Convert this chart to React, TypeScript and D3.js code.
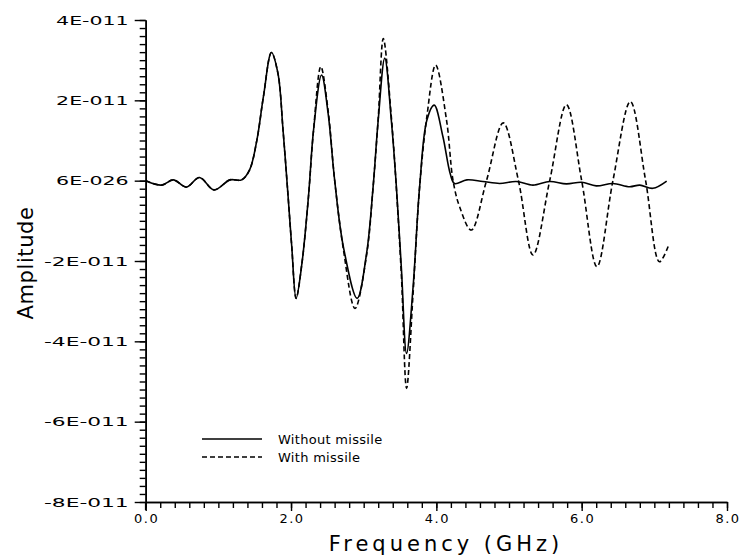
import React, { useEffect, useRef } from 'react';
import * as d3 from 'd3';

// amplitude values are in units of 1E-11
const freqWithout = [0, 0.22, 0.38, 0.56, 0.74, 0.94, 1.16, 1.32, 1.43, 1.53, 1.62, 1.73, 1.82, 1.89, 1.96, 2.01, 2.07, 2.15, 2.24, 2.31, 2.42, 2.51, 2.6, 2.72, 2.91, 3.04, 3.13, 3.2, 3.29, 3.38, 3.45, 3.52, 3.59, 3.68, 3.77, 3.87, 3.97, 4.09, 4.19, 4.25, 4.42, 4.64, 4.87, 5.1, 5.33, 5.56, 5.79, 6.0, 6.2, 6.43, 6.66, 6.8, 6.98, 7.17];
const ampWithout = [0, -0.11, 0.02, -0.16, 0.08, -0.23, 0.02, 0.02, 0.27, 1.01, 2.09, 3.19, 2.67, 1.26, -0.4, -1.64, -2.93, -2.06, -0.4, 1.26, 2.63, 1.68, 0.02, -1.64, -2.93, -1.81, -0.15, 1.51, 3.05, 1.51, -0.15, -2.22, -4.3, -2.64, -0.15, 1.51, 1.88, 1.1, 0.18, -0.07, 0.02, -0.02, -0.07, -0.02, -0.11, -0.02, -0.08, -0.04, -0.13, -0.07, -0.15, -0.11, -0.19, -0.01];

const freqWith = [0, 0.22, 0.38, 0.56, 0.74, 0.94, 1.16, 1.32, 1.43, 1.53, 1.62, 1.73, 1.82, 1.89, 1.96, 2.01, 2.07, 2.15, 2.24, 2.31, 2.41, 2.51, 2.6, 2.72, 2.88, 3.04, 3.13, 3.2, 3.27, 3.38, 3.45, 3.52, 3.59, 3.68, 3.77, 3.87, 3.99, 4.14, 4.23, 4.32, 4.48, 4.69, 4.92, 5.13, 5.33, 5.56, 5.79, 6.0, 6.21, 6.43, 6.67, 6.88, 7.07, 7.19];
const ampWith = [0, -0.11, 0.02, -0.16, 0.08, -0.23, 0.02, 0.02, 0.27, 1.01, 2.09, 3.19, 2.67, 1.26, -0.4, -1.64, -2.93, -2.06, -0.4, 1.26, 2.84, 1.75, 0.02, -1.7, -3.18, -1.85, -0.15, 1.55, 3.54, 1.6, -0.2, -2.4, -5.17, -2.8, -0.15, 1.6, 2.88, 1.51, 0, -0.65, -1.23, 0, 1.44, 0, -1.85, 0, 1.89, 0, -2.14, 0, 1.97, 0, -2.02, -1.64];

const yTickValues = [-8, -6, -4, -2, 0, 2, 4];
const yTickLabels = ['-8E-011', '-6E-011', '-4E-011', '-2E-011', '6E-026', '2E-011', '4E-011'];
const xTickValues = [0, 2, 4, 6, 8];
const xTickLabels = ['0.0', '2.0', '4.0', '6.0', '8.0'];
const seriesNames = ['Without missile', 'With missile'];

const FONT = '"DejaVu Sans", sans-serif';

export default function App() {
  const svgRef = useRef<SVGSVGElement>(null);

  useEffect(() => {
    const svg = d3.select(svgRef.current);
    svg.selectAll('*').remove();

    const x = d3.scaleLinear().domain([0, 8]).range([145.7, 727]);
    const y = d3.scaleLinear().domain([-8, 4]).range([502, 20]);

    const g = svg.append('g');

    const yMinor = d3.range(0, 61).map(i => -8 + i * 0.2);
    const xMinor = d3.range(0, 41).map(i => i * 0.2);

    // minor ticks
    const yMinorAxis = g.append('g')
      .attr('transform', `translate(${x(0)},0)`)
      .call(d3.axisLeft(y).tickValues(yMinor).tickSize(6).tickSizeOuter(0).tickFormat(() => ''));
    const xMinorAxis = g.append('g')
      .attr('transform', `translate(0,${y(-8)})`)
      .call(d3.axisBottom(x).tickValues(xMinor).tickSize(6).tickSizeOuter(0).tickFormat(() => ''));

    // major ticks
    g.append('g')
      .attr('transform', `translate(${x(0)},0)`)
      .call(d3.axisLeft(y).tickValues(yTickValues).tickSize(11).tickSizeOuter(0).tickFormat(() => ''));
    g.append('g')
      .attr('transform', `translate(0,${y(-8)})`)
      .call(d3.axisBottom(x).tickValues(xTickValues).tickSize(9).tickSizeOuter(0).tickFormat(() => ''));

    g.selectAll('.domain').attr('stroke', '#000').attr('stroke-width', 1.6);
    g.selectAll('.tick line').attr('stroke', '#000').attr('stroke-width', 1.4);
    [yMinorAxis, xMinorAxis].forEach(a => a.select('.domain').attr('stroke-width', 1.6));

    // y axis runs a little past the x axis
    g.append('line')
      .attr('x1', x(0)).attr('x2', x(0))
      .attr('y1', y(-8)).attr('y2', y(-8) + 8)
      .attr('stroke', '#000').attr('stroke-width', 1.6);

    g.selectAll('text.ylabel')
      .data(yTickValues)
      .join('text')
      .attr('class', 'ylabel')
      .attr('x', x(0) - 17)
      .attr('y', d => y(d) + 4.6)
      .attr('text-anchor', 'end')
      .attr('textLength', (d, i) => yTickLabels[i].length * 12.1)
      .attr('lengthAdjust', 'spacingAndGlyphs')
      .style('font-family', FONT)
      .style('font-size', '13px')
      .text((d, i) => yTickLabels[i]);

    g.selectAll('text.xlabel')
      .data(xTickValues)
      .join('text')
      .attr('class', 'xlabel')
      .attr('x', d => x(d) + 1)
      .attr('y', y(-8) + 21)
      .attr('text-anchor', 'middle')
      .style('font-family', FONT)
      .style('font-size', '13px')
      .style('letter-spacing', '1.5px')
      .text((d, i) => xTickLabels[i]);

    // axis titles
    g.append('text')
      .attr('x', 446)
      .attr('y', 551)
      .attr('text-anchor', 'middle')
      .style('font-family', FONT)
      .style('font-size', '21px')
      .style('letter-spacing', '4px')
      .text('Frequency (GHz)');

    g.append('text')
      .attr('transform', 'translate(33,263) rotate(-90)')
      .attr('text-anchor', 'middle')
      .style('font-family', FONT)
      .style('font-size', '21px')
      .style('letter-spacing', '0.6px')
      .text('Amplitude');

    const line = d3.line<[number, number]>()
      .x(d => x(d[0]))
      .y(d => y(d[1]))
      .curve(d3.curveCatmullRom.alpha(0.5));

    const withoutData = freqWithout.map((f, i) => [f, ampWithout[i]] as [number, number]);
    const withData = freqWith.map((f, i) => [f, ampWith[i]] as [number, number]);

    g.append('path')
      .datum(withData)
      .attr('d', line)
      .attr('fill', 'none')
      .attr('stroke', '#000')
      .attr('stroke-width', 1.6)
      .attr('stroke-dasharray', '5,3');

    g.append('path')
      .datum(withoutData)
      .attr('d', line)
      .attr('fill', 'none')
      .attr('stroke', '#000')
      .attr('stroke-width', 1.6);

    // legend
    const legend = g.append('g');
    seriesNames.forEach((name, i) => {
      const ly = 439 + i * 18;
      legend.append('line')
        .attr('x1', 202).attr('x2', 262)
        .attr('y1', ly).attr('y2', ly)
        .attr('stroke', '#000')
        .attr('stroke-width', 1.6)
        .attr('stroke-dasharray', i === 1 ? '5,3' : null);
      legend.append('text')
        .attr('x', 278)
        .attr('y', ly + 5)
        .style('font-family', FONT)
        .style('font-size', '13px')
        .style('letter-spacing', '0.3px')
        .text(name);
    });
  }, []);

  return (
    <svg
      ref={svgRef}
      width={755}
      height={557}
      style={{ position: 'absolute', left: 0, top: 0, background: '#fff' }}
    />
  );
}
